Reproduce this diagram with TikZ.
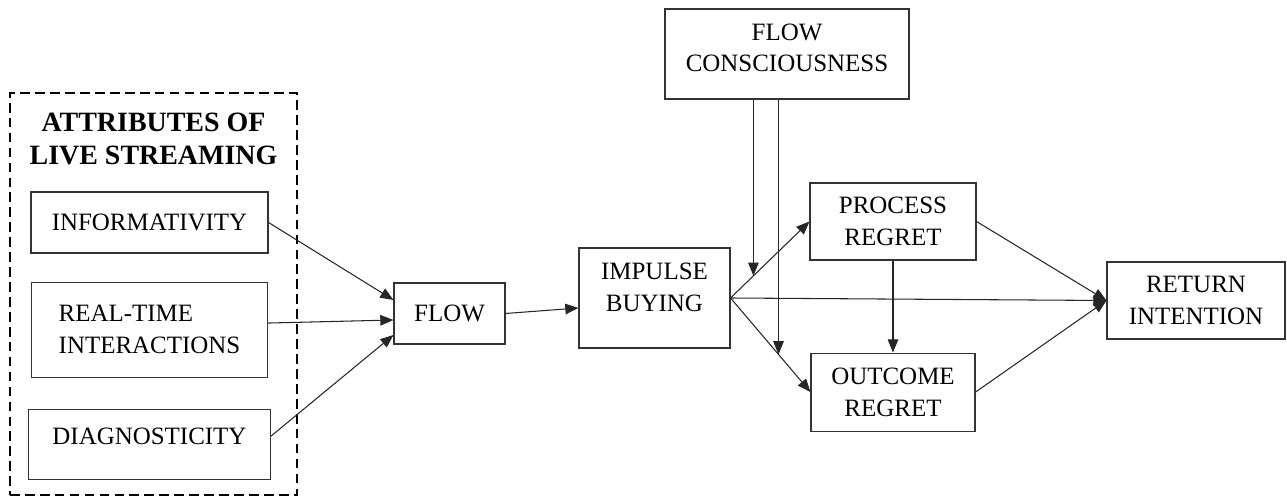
\documentclass[tikz,border=0pt]{standalone}
\usepackage{fontspec}
\setmainfont{Liberation Serif}
\usetikzlibrary{positioning, arrows.meta, calc}

\begin{document}
\begin{tikzpicture}[
      var/.style={draw=black!80, line width=0.6pt, font=\fontsize{14.2}{18.2}\selectfont, align=center, inner sep=2pt},
      link/.style={-{Triangle[length=7.5pt, width=6pt]}, line width=0.6pt, black!85},
      group/.style={draw, line width=1.1pt, dash pattern=on 5.5pt off 3pt},
      node distance=0.56cm and 1cm
    ]
      \useasboundingbox (0,0) rectangle (25.74,-9.94);

      \node[group, minimum width=5.74cm, minimum height=8.04cm] (attr) at (3.07,-5.88) {};
      \node[font=\bfseries\fontsize{15.9}{18.8}\selectfont, align=center] (title) at (3.07,-2.77) {ATTRIBUTES OF\\LIVE STREAMING};

      \node[var, minimum width=4.74cm, minimum height=1.22cm] (info) at (2.99,-4.45) {INFORMATIVITY};
      \node[var, align=left, minimum width=4.72cm, minimum height=1.9cm, below=0.56cm of info] (rti) {REAL-TIME\\INTERACTIONS};
      \node[var, text depth=0.32cm, minimum width=4.84cm, minimum height=1.4cm, below=0.62cm of rti] (diag) {DIAGNOSTICITY};

      \node[var, minimum width=2.22cm, minimum height=1.22cm] (flow) at (8.99,-6.27) {FLOW};
      \node[var, text depth=0.43cm, minimum width=3.02cm, minimum height=2cm] (impulse) at (13.09,-5.96) {IMPULSE\\BUYING};
      \node[var, text depth=0.25cm, minimum width=4.88cm, minimum height=1.8cm] (fc) at (15.74,-1.08) {FLOW\\CONSCIOUSNESS};
      \node[var, minimum width=3.32cm, minimum height=1.54cm] (process) at (17.86,-4.43) {PROCESS\\REGRET};
      \node[var, minimum width=3.28cm, minimum height=1.56cm, below=1.84cm of process] (outcome) {OUTCOME\\REGRET};
      \node[var, minimum width=3.56cm, minimum height=1.54cm] (return) at (23.92,-6.01) {RETURN\\INTENTION};

      \draw[link] (info.east) -- ([yshift=0.27cm]flow.west);
      \draw[link] ([yshift=0.13cm]rti.east) -- ([yshift=-0.13cm]flow.west);
      \draw[link] ([yshift=0.16cm]diag.east) -- ([yshift=-0.43cm]flow.west);
      \draw[link] (flow.east) -- ([yshift=-0.2cm]impulse.west);

      \draw[link] (impulse.east) -- (process.west);
      \draw[link] (impulse.east) -- (outcome.west);
      \draw[link] (impulse.east) -- (return.west);
      \draw[link] (process.south) -- (outcome.north);
      \draw[link] (process.east) -- (return.west);
      \draw[link] (outcome.east) -- (return.west);

      \coordinate (m1) at ($(impulse.east)!0.29!(process.west)$);
      \coordinate (m2) at ($(impulse.east)!0.6!(outcome.west)$);
      \draw[link] (fc.south -| m1) -- (m1);
      \draw[link] (fc.south -| m2) -- (m2);
    \end{tikzpicture}
\end{document}
